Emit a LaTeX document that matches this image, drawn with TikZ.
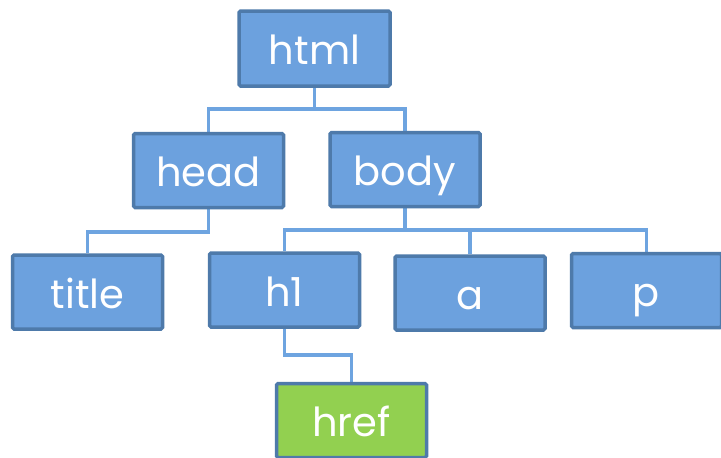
\documentclass[tikz,border=0pt]{standalone}
\usepackage{fontspec}
\setmainfont{Poppins}
\usetikzlibrary{backgrounds}
\definecolor{boxfill}{HTML}{6CA1DE}
\definecolor{boxborder}{HTML}{4E7AAA}
\definecolor{linkcol}{HTML}{6EA4E0}
\definecolor{greenfill}{HTML}{92D050}
\tikzset{
  treebox/.style={draw=boxborder, fill=boxfill, line width=3.5pt, rounded corners=1.5pt,
    minimum width=150pt, minimum height=74pt, inner sep=0pt,
    text=white, font=\fontsize{40}{42}\selectfont, text height=32pt, text depth=0pt},
  greenbox/.style={treebox, fill=greenfill},
  link/.style={draw=linkcol, line width=3.6pt}
}
\begin{document}
\begin{tikzpicture}[x=1pt,y=-1pt]
\useasboundingbox (0,0) rectangle (721,458);
\clip (0,0) rectangle (721,458);
\node[treebox, minimum width=151pt, minimum height=75pt] (html) at (314.5,48.5) {html};
\node[treebox] (head) at (208.5,170.5) {head};
\node[treebox] (body) at (405,169.5) {body};
\node[treebox] (title) at (87.5,292) {title};
\node[treebox] (h1) at (284.5,290) {h1};
\node[treebox] (a) at (470,293) {a};
\node[treebox] (p) at (646.5,290.5) {p};
\node[greenbox] (href) at (351.5,420.5) {href};
\begin{scope}[on background layer]
\fill[white] (0,0) rectangle (721,458);
\draw[link] (html.south) -- ++(0,21) -| (head.north);
\draw[link] (html.south) -- ++(0,21) -| (body.north);
\draw[link] (head.south) -- ++(0,23) -| (title.north);
\draw[link] (body.south) -- ++(0,22) -| (h1.north);
\draw[link] (body.south) -- ++(0,22) -| (a.north);
\draw[link] (body.south) -- ++(0,22) -| (p.north);
\draw[link] (h1.south) -- ++(0,26) -| (href.north);
\end{scope}
\end{tikzpicture}
\end{document}
